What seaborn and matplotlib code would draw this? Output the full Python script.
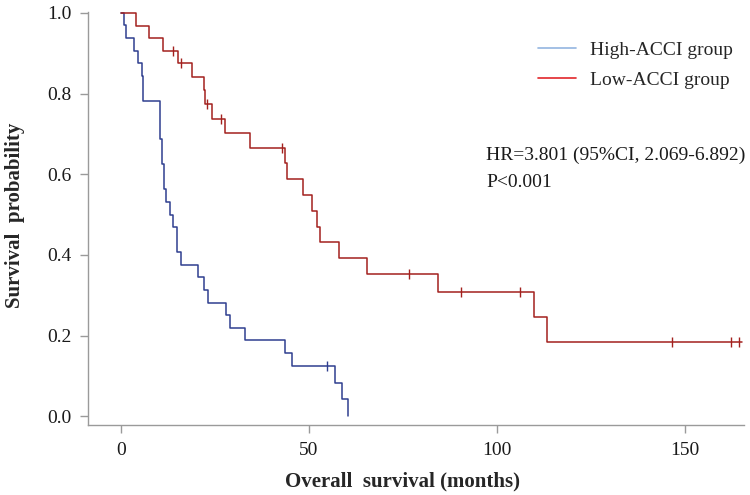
"""
Kaplan-Meier overall survival curves, High- vs Low-ACCI group.
Values read off the published figure.
"""
import matplotlib
matplotlib.use("Agg")
import matplotlib.pyplot as plt
from matplotlib.lines import Line2D
import seaborn as sns

# step times (months) and survival after each step
high_time = [0, 0.9, 1.2, 3.5, 4.6, 5.7, 5.9, 10.4, 11.0, 11.3, 12.0, 13.0, 13.7,
             15.0, 16.0, 20.4, 22.1, 23.2, 27.9, 29.0, 33.0, 43.6, 45.6, 56.9,
             58.7, 60.3]
high_surv = [1.0, 0.969, 0.938, 0.906, 0.875, 0.844, 0.781, 0.688, 0.625, 0.563,
             0.531, 0.5, 0.469, 0.406, 0.375, 0.344, 0.313, 0.281, 0.25, 0.219,
             0.188, 0.156, 0.125, 0.083, 0.042, 0.0]

low_time = [0, 4.1, 7.5, 11.1, 15.1, 18.8, 22.1, 22.4, 24.3, 27.7, 34.3, 43.6,
            44.2, 48.3, 50.9, 52.0, 52.9, 58.0, 65.5, 84.2, 109.8, 113.4, 165.3]
low_surv = [1.0, 0.968, 0.937, 0.906, 0.877, 0.840, 0.808, 0.774, 0.738, 0.703,
            0.666, 0.627, 0.587, 0.548, 0.509, 0.470, 0.431, 0.392, 0.352, 0.308,
            0.246, 0.184, 0.184]

# censored observations
high_cens_time = [54.7]
high_cens_surv = [0.125]
low_cens_time = [13.9, 16.0, 22.8, 26.5, 42.7, 76.7, 90.4, 106.1, 146.6, 162.2, 164.4]
low_cens_surv = [0.906, 0.877, 0.774, 0.738, 0.666, 0.352, 0.308, 0.308, 0.184,
                 0.184, 0.184]

group_labels = ["High-ACCI group", "Low-ACCI group"]
x_ticks = [0, 50, 100, 150]
y_ticks = [0.0, 0.2, 0.4, 0.6, 0.8, 1.0]

HIGH_COLOR = "#2f3f8f"
LOW_COLOR = "#a3211e"
AXIS_GRAY = "#9a9a9a"

sns.set_style("white")
plt.rcParams["font.family"] = ["Liberation Serif", "DejaVu Serif"]

fig = plt.figure(figsize=(7.5, 4.95), dpi=100)
ax = fig.add_axes([0.1173, 0.1414, 0.8747, 0.8344])

sns.lineplot(x=high_time, y=high_surv, drawstyle="steps-post", estimator=None,
             sort=False, color=HIGH_COLOR, linewidth=1.1, ax=ax)
sns.lineplot(x=low_time, y=low_surv, drawstyle="steps-post", estimator=None,
             sort=False, color=LOW_COLOR, linewidth=1.1, ax=ax)
sns.scatterplot(x=high_cens_time, y=high_cens_surv, marker="|", s=45,
                color=HIGH_COLOR, linewidth=1.0, ax=ax)
sns.scatterplot(x=low_cens_time, y=low_cens_surv, marker="|", s=45,
                color=LOW_COLOR, linewidth=1.0, ax=ax)

ax.set_xlim(-8.8, 165.7)
ax.set_ylim(-0.022, 1.0025)
ax.set_xticks(x_ticks)
ax.set_yticks(y_ticks)
ax.set_yticklabels([f"{v:.1f}" for v in y_ticks])

for side in ["top", "right"]:
    ax.spines[side].set_visible(False)
for side in ["left", "bottom"]:
    ax.spines[side].set_color(AXIS_GRAY)
    ax.spines[side].set_linewidth(1.0)
ax.tick_params(axis="both", which="major", direction="out", length=6,
               width=1.0, color=AXIS_GRAY, labelsize=14, labelcolor="#1a1a1a",
               pad=6, left=True, bottom=True)

ax.set_xlabel("Overall  survival (months)", fontsize=15, fontweight="bold")
ax.set_ylabel("Survival  probability", fontsize=15, fontweight="bold")
ax.xaxis.set_label_coords(0.479, -0.113)
ax.yaxis.set_label_coords(-0.0955, 0.508)

handles = [Line2D([0], [0], color="#93b5e0", linewidth=1.2),
           Line2D([0], [0], color="#e2262a", linewidth=1.2)]
ax.legend(handles, group_labels, loc="upper left", bbox_to_anchor=(0.686, 0.93),
          frameon=False, fontsize=14, handlelength=1.95, handletextpad=0.72,
          labelspacing=0.65, borderpad=0, borderaxespad=0)

ax.text(0.607, 0.652, "HR=3.801 (95%CI, 2.069-6.892)", transform=ax.transAxes,
        fontsize=14, va="center", ha="left", color="#1a1a1a")
ax.text(0.607, 0.588, "P<0.001", transform=ax.transAxes,
        fontsize=14, va="center", ha="left", color="#1a1a1a")

fig.savefig("out.png", dpi=100)
